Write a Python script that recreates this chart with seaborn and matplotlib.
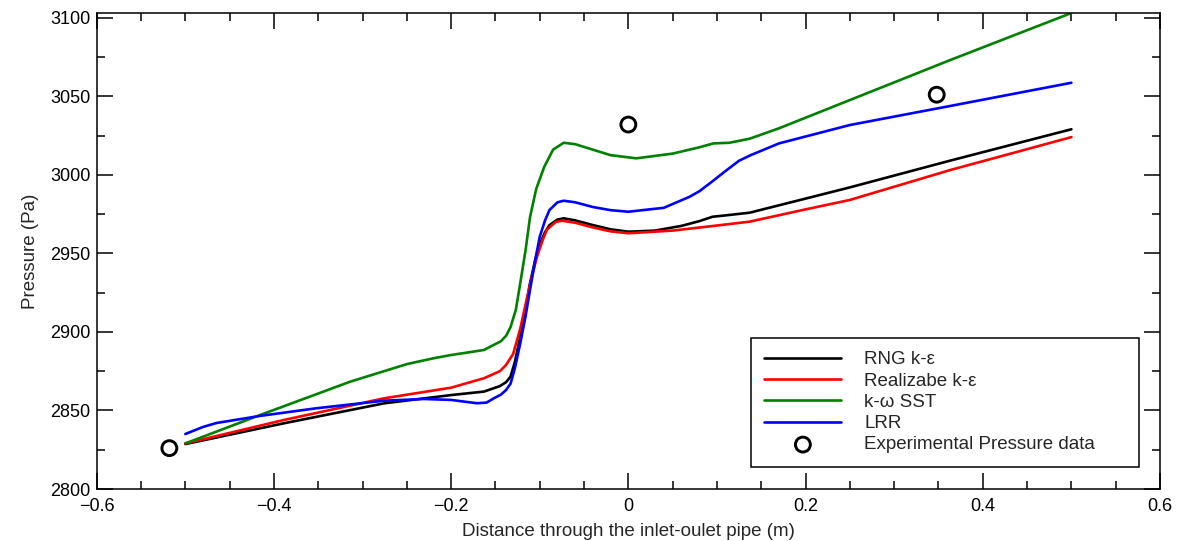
import matplotlib
matplotlib.use("Agg")
import matplotlib.pyplot as plt
import seaborn as sns
import pandas as pd
from matplotlib.ticker import MultipleLocator, FuncFormatter

# ---- data ----
x_rng = [-0.5, -0.389, -0.276, -0.2, -0.163, -0.145, -0.138, -0.133, -0.128, -0.122,
         -0.116, -0.111, -0.105, -0.1, -0.094, -0.089, -0.08, -0.073, -0.06, -0.04,
         -0.02, 0.0, 0.03, 0.06, 0.08, 0.095, 0.115, 0.137, 0.194, 0.25, 0.363, 0.5]
p_rng = [2828.6, 2841.8, 2854.5, 2859.8, 2862.0, 2865.5, 2868.0, 2871.5, 2881.0, 2897.0,
         2915.0, 2931.0, 2946.0, 2956.0, 2963.5, 2968.0, 2971.5, 2972.3, 2971.0, 2968.0,
         2965.3, 2963.8, 2964.5, 2967.5, 2970.5, 2973.3, 2974.5, 2975.9, 2984.0, 2992.0,
         3009.0, 3029.0]

x_real = [-0.5, -0.389, -0.276, -0.2, -0.163, -0.145, -0.138, -0.13, -0.122, -0.115,
          -0.109, -0.103, -0.097, -0.092, -0.082, -0.075, -0.06, -0.04, -0.02, 0.0,
          0.05, 0.095, 0.137, 0.2, 0.25, 0.363, 0.5]
p_real = [2829.0, 2843.9, 2857.7, 2864.5, 2870.5, 2875.0, 2879.0, 2886.0, 2902.0, 2920.0,
          2935.0, 2948.0, 2958.0, 2965.0, 2970.0, 2970.8, 2969.5, 2966.5, 2964.0, 2962.8,
          2964.5, 2967.4, 2970.2, 2978.0, 2984.0, 3003.0, 3024.0]

x_sst = [-0.5, -0.416, -0.314, -0.25, -0.22, -0.2, -0.18, -0.163, -0.152, -0.144,
         -0.138, -0.133, -0.127, -0.122, -0.116, -0.111, -0.104, -0.095, -0.085, -0.073,
         -0.06, -0.04, -0.02, 0.009, 0.05, 0.08, 0.096, 0.114, 0.137, 0.17, 0.25, 0.363,
         0.5]
p_sst = [2829.0, 2847.0, 2868.3, 2879.5, 2883.2, 2885.3, 2887.0, 2888.5, 2891.7, 2894.0,
         2897.5, 2903.0, 2914.0, 2931.0, 2952.0, 2973.0, 2991.0, 3005.0, 3016.0, 3020.4,
         3019.5, 3016.0, 3012.5, 3010.5, 3013.5, 3017.5, 3020.0, 3020.4, 3023.0, 3029.6,
         3047.6, 3073.0, 3103.0]

x_lrr = [-0.5, -0.48, -0.465, -0.416, -0.352, -0.276, -0.231, -0.2, -0.171, -0.16,
         -0.152, -0.144, -0.138, -0.133, -0.128, -0.122, -0.116, -0.111, -0.105, -0.1,
         -0.094, -0.089, -0.08, -0.073, -0.06, -0.04, -0.02, 0.0, 0.04, 0.069, 0.08,
         0.092, 0.111, 0.125, 0.138, 0.17, 0.25, 0.363, 0.5]
p_lrr = [2835.0, 2839.5, 2842.0, 2846.5, 2851.4, 2856.2, 2857.3, 2856.7, 2854.6, 2855.0,
         2857.7, 2860.0, 2863.0, 2867.0, 2877.0, 2892.7, 2910.0, 2926.7, 2946.0, 2960.6,
         2971.0, 2977.6, 2982.5, 2983.5, 2982.5, 2979.5, 2977.5, 2976.5, 2979.0, 2986.0,
         2989.5, 2994.6, 3003.0, 3009.0, 3012.5, 3020.0, 3031.7, 3043.8, 3058.6]

x_exp = [-0.518, 0.0, 0.348]
p_exp = [2826.0, 3032.0, 3051.0]

labels = ["RNG k-ε", "Realizabe k-ε", "k-ω SST", "LRR", "Experimental Pressure data"]
colors = ["#000000", "#ff0000", "#008000", "#0000ff"]

sns.set_theme(style="ticks")
plt.rcParams["font.family"] = ["Liberation Sans", "DejaVu Sans"]
plt.rcParams["axes.unicode_minus"] = True

fig = plt.figure(figsize=(11.81, 5.41), dpi=100)
ax = fig.add_axes([96.7 / 1181, 1 - 489 / 541, 1063.3 / 1181, 476.3 / 541])

series = [(x_rng, p_rng), (x_real, p_real), (x_sst, p_sst), (x_lrr, p_lrr)]
for (xs, ps), lab, col in zip(series, labels[:4], colors):
    df = pd.DataFrame({"x": xs, "p": ps})
    sns.lineplot(data=df, x="x", y="p", ax=ax, color=col, linewidth=1.9,
                 sort=False, estimator=None, label=lab)

df_exp = pd.DataFrame({"x": x_exp, "p": p_exp})
sns.scatterplot(data=df_exp, x="x", y="p", ax=ax, marker="o", s=115,
                facecolor="none", edgecolor="black", linewidth=2.1,
                label=labels[4], zorder=5)

ax.set_xlim(-0.6, 0.6)
ax.set_ylim(2800, 3103.2)
ax.xaxis.set_major_locator(MultipleLocator(0.2))
ax.xaxis.set_minor_locator(MultipleLocator(0.05))
ax.yaxis.set_major_locator(MultipleLocator(50))
ax.yaxis.set_minor_locator(MultipleLocator(25))
ax.xaxis.set_major_formatter(FuncFormatter(
    lambda v, p: "0" if abs(v) < 1e-9 else f"{v:.1f}".replace("-", "\u2212")))
ax.yaxis.set_major_formatter(FuncFormatter(lambda v, p: f"{v:.0f}"))

ax.tick_params(which="both", direction="in", top=True, right=True, width=1.1,
               colors="black", labelsize=13)
ax.tick_params(which="major", length=11.5)
ax.tick_params(axis="x", which="major", pad=6.5)
ax.tick_params(axis="y", which="major", pad=4.5)
ax.tick_params(which="minor", length=5.8)
for s in ax.spines.values():
    s.set_linewidth(1.1)
    s.set_color("black")

ax.set_xlabel("Distance through the inlet-oulet pipe (m)", fontsize=13.5, labelpad=6)
ax.set_ylabel("Pressure (Pa)", fontsize=13.5, labelpad=8)

leg = ax.legend(loc="lower left", bbox_to_anchor=(0.6153, 0.0462, 0.365, 0.269),
                mode="expand", fontsize=13.5, frameon=True, fancybox=False,
                edgecolor="black", framealpha=1, borderpad=0.72, labelspacing=0.22,
                handlelength=4.1, handletextpad=1.23, borderaxespad=0)
leg.get_frame().set_linewidth(1.1)
# nudge legend contents slightly right/down to match the reference padding
leg._legend_box.set_offset  # keep API use minimal
for t in leg.get_texts():
    t.set_ha("left")

fig.savefig("out.png", dpi=100)
